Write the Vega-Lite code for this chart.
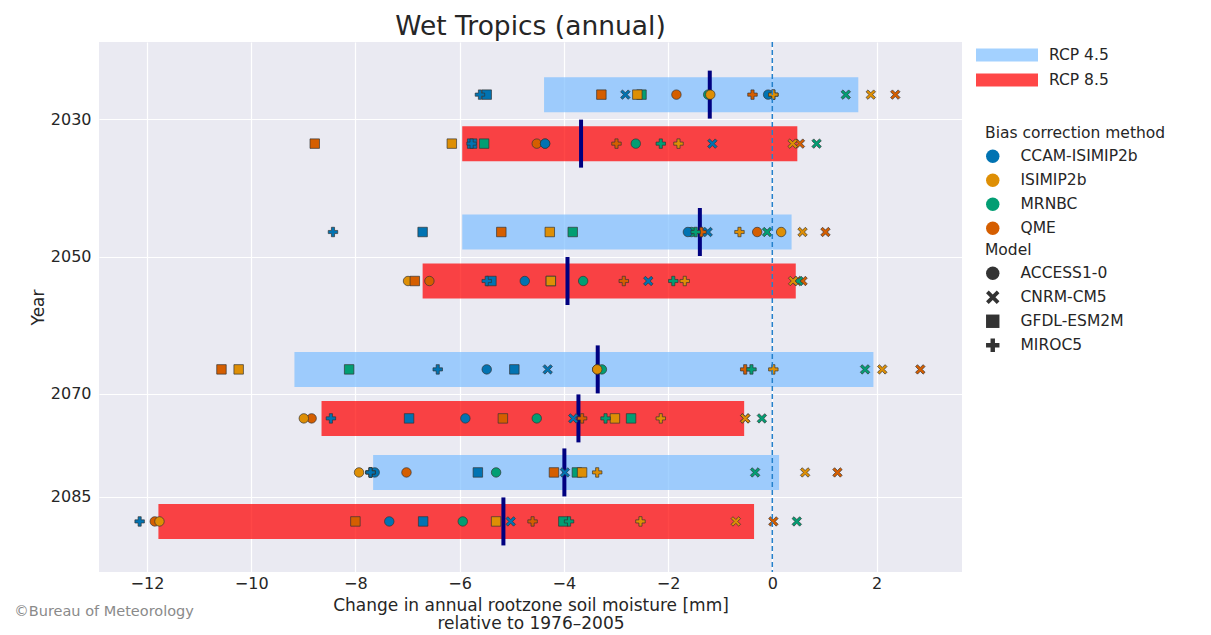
{
  "$schema": "https://vega.github.io/schema/vega-lite/v6.json",
  "background": "white",
  "padding": {"left": 14, "top": 13, "right": 5, "bottom": 5},
  "title": {"text": "©Bureau of Meteorology", "orient": "bottom", "anchor": "start", "frame": "bounds", "fontSize": 14.5, "fontWeight": "normal", "color": "#8a8a8a", "offset": -26, "dx": -15},
  "datasets": {
    "bars": [
      {"year": 2030, "rcp": "RCP 4.5", "low": -4.38, "high": 1.65, "median": -1.20},
      {"year": 2030, "rcp": "RCP 8.5", "low": -5.95, "high": 0.48, "median": -3.67},
      {"year": 2050, "rcp": "RCP 4.5", "low": -5.95, "high": 0.37, "median": -1.39},
      {"year": 2050, "rcp": "RCP 8.5", "low": -6.71, "high": 0.45, "median": -3.93},
      {"year": 2070, "rcp": "RCP 4.5", "low": -9.17, "high": 1.94, "median": -3.35},
      {"year": 2070, "rcp": "RCP 8.5", "low": -8.65, "high": -0.54, "median": -3.72},
      {"year": 2085, "rcp": "RCP 4.5", "low": -7.66, "high": 0.13, "median": -3.99},
      {"year": 2085, "rcp": "RCP 8.5", "low": -11.78, "high": -0.35, "median": -5.16}
    ],
    "zero": [{"ref": 0}],
    "points": [
      {"year": 2030, "rcp": "RCP 4.5", "model": "ACCESS1-0", "method": "QME", "value": -1.84},
      {"year": 2030, "rcp": "RCP 4.5", "model": "ACCESS1-0", "method": "MRNBC", "value": -1.23},
      {"year": 2030, "rcp": "RCP 4.5", "model": "ACCESS1-0", "method": "ISIMIP2b", "value": -1.19},
      {"year": 2030, "rcp": "RCP 4.5", "model": "ACCESS1-0", "method": "CCAM-ISIMIP2b", "value": -0.08},
      {"year": 2030, "rcp": "RCP 4.5", "model": "CNRM-CM5", "method": "QME", "value": 2.36},
      {"year": 2030, "rcp": "RCP 4.5", "model": "CNRM-CM5", "method": "MRNBC", "value": 1.41},
      {"year": 2030, "rcp": "RCP 4.5", "model": "CNRM-CM5", "method": "ISIMIP2b", "value": 1.89},
      {"year": 2030, "rcp": "RCP 4.5", "model": "CNRM-CM5", "method": "CCAM-ISIMIP2b", "value": -2.82},
      {"year": 2030, "rcp": "RCP 4.5", "model": "GFDL-ESM2M", "method": "QME", "value": -3.28},
      {"year": 2030, "rcp": "RCP 4.5", "model": "GFDL-ESM2M", "method": "MRNBC", "value": -2.51},
      {"year": 2030, "rcp": "RCP 4.5", "model": "GFDL-ESM2M", "method": "ISIMIP2b", "value": -2.59},
      {"year": 2030, "rcp": "RCP 4.5", "model": "GFDL-ESM2M", "method": "CCAM-ISIMIP2b", "value": -5.48},
      {"year": 2030, "rcp": "RCP 4.5", "model": "MIROC5", "method": "QME", "value": -0.38},
      {"year": 2030, "rcp": "RCP 4.5", "model": "MIROC5", "method": "MRNBC", "value": 0.02},
      {"year": 2030, "rcp": "RCP 4.5", "model": "MIROC5", "method": "ISIMIP2b", "value": 0.02},
      {"year": 2030, "rcp": "RCP 4.5", "model": "MIROC5", "method": "CCAM-ISIMIP2b", "value": -5.61},

      {"year": 2030, "rcp": "RCP 8.5", "model": "ACCESS1-0", "method": "QME", "value": -4.52},
      {"year": 2030, "rcp": "RCP 8.5", "model": "ACCESS1-0", "method": "MRNBC", "value": -2.62},
      {"year": 2030, "rcp": "RCP 8.5", "model": "ACCESS1-0", "method": "ISIMIP2b", "value": -4.36},
      {"year": 2030, "rcp": "RCP 8.5", "model": "ACCESS1-0", "method": "CCAM-ISIMIP2b", "value": -4.36},
      {"year": 2030, "rcp": "RCP 8.5", "model": "CNRM-CM5", "method": "QME", "value": 0.53},
      {"year": 2030, "rcp": "RCP 8.5", "model": "CNRM-CM5", "method": "MRNBC", "value": 0.85},
      {"year": 2030, "rcp": "RCP 8.5", "model": "CNRM-CM5", "method": "ISIMIP2b", "value": 0.39},
      {"year": 2030, "rcp": "RCP 8.5", "model": "CNRM-CM5", "method": "CCAM-ISIMIP2b", "value": -1.15},
      {"year": 2030, "rcp": "RCP 8.5", "model": "GFDL-ESM2M", "method": "QME", "value": -8.78},
      {"year": 2030, "rcp": "RCP 8.5", "model": "GFDL-ESM2M", "method": "MRNBC", "value": -5.53},
      {"year": 2030, "rcp": "RCP 8.5", "model": "GFDL-ESM2M", "method": "ISIMIP2b", "value": -6.15},
      {"year": 2030, "rcp": "RCP 8.5", "model": "GFDL-ESM2M", "method": "CCAM-ISIMIP2b", "value": -5.76},
      {"year": 2030, "rcp": "RCP 8.5", "model": "MIROC5", "method": "QME", "value": -2.99},
      {"year": 2030, "rcp": "RCP 8.5", "model": "MIROC5", "method": "MRNBC", "value": -2.14},
      {"year": 2030, "rcp": "RCP 8.5", "model": "MIROC5", "method": "ISIMIP2b", "value": -1.80},
      {"year": 2030, "rcp": "RCP 8.5", "model": "MIROC5", "method": "CCAM-ISIMIP2b", "value": -5.77},

      {"year": 2050, "rcp": "RCP 4.5", "model": "ACCESS1-0", "method": "QME", "value": -0.29},
      {"year": 2050, "rcp": "RCP 4.5", "model": "ACCESS1-0", "method": "MRNBC", "value": -1.55},
      {"year": 2050, "rcp": "RCP 4.5", "model": "ACCESS1-0", "method": "ISIMIP2b", "value": 0.17},
      {"year": 2050, "rcp": "RCP 4.5", "model": "ACCESS1-0", "method": "CCAM-ISIMIP2b", "value": -1.62},
      {"year": 2050, "rcp": "RCP 4.5", "model": "CNRM-CM5", "method": "QME", "value": 1.02},
      {"year": 2050, "rcp": "RCP 4.5", "model": "CNRM-CM5", "method": "MRNBC", "value": -0.10},
      {"year": 2050, "rcp": "RCP 4.5", "model": "CNRM-CM5", "method": "ISIMIP2b", "value": 0.58},
      {"year": 2050, "rcp": "RCP 4.5", "model": "CNRM-CM5", "method": "CCAM-ISIMIP2b", "value": -1.24},
      {"year": 2050, "rcp": "RCP 4.5", "model": "GFDL-ESM2M", "method": "QME", "value": -5.20},
      {"year": 2050, "rcp": "RCP 4.5", "model": "GFDL-ESM2M", "method": "MRNBC", "value": -3.83},
      {"year": 2050, "rcp": "RCP 4.5", "model": "GFDL-ESM2M", "method": "ISIMIP2b", "value": -4.27},
      {"year": 2050, "rcp": "RCP 4.5", "model": "GFDL-ESM2M", "method": "CCAM-ISIMIP2b", "value": -6.71},
      {"year": 2050, "rcp": "RCP 4.5", "model": "MIROC5", "method": "QME", "value": -1.36},
      {"year": 2050, "rcp": "RCP 4.5", "model": "MIROC5", "method": "MRNBC", "value": -1.47},
      {"year": 2050, "rcp": "RCP 4.5", "model": "MIROC5", "method": "ISIMIP2b", "value": -0.63},
      {"year": 2050, "rcp": "RCP 4.5", "model": "MIROC5", "method": "CCAM-ISIMIP2b", "value": -8.43},

      {"year": 2050, "rcp": "RCP 8.5", "model": "ACCESS1-0", "method": "QME", "value": -6.58},
      {"year": 2050, "rcp": "RCP 8.5", "model": "ACCESS1-0", "method": "MRNBC", "value": -3.63},
      {"year": 2050, "rcp": "RCP 8.5", "model": "ACCESS1-0", "method": "ISIMIP2b", "value": -6.99},
      {"year": 2050, "rcp": "RCP 8.5", "model": "ACCESS1-0", "method": "CCAM-ISIMIP2b", "value": -4.75},
      {"year": 2050, "rcp": "RCP 8.5", "model": "CNRM-CM5", "method": "QME", "value": 0.58},
      {"year": 2050, "rcp": "RCP 8.5", "model": "CNRM-CM5", "method": "MRNBC", "value": 0.50},
      {"year": 2050, "rcp": "RCP 8.5", "model": "CNRM-CM5", "method": "ISIMIP2b", "value": 0.40},
      {"year": 2050, "rcp": "RCP 8.5", "model": "CNRM-CM5", "method": "CCAM-ISIMIP2b", "value": -2.38},
      {"year": 2050, "rcp": "RCP 8.5", "model": "GFDL-ESM2M", "method": "QME", "value": -6.86},
      {"year": 2050, "rcp": "RCP 8.5", "model": "GFDL-ESM2M", "method": "MRNBC", "value": -4.25},
      {"year": 2050, "rcp": "RCP 8.5", "model": "GFDL-ESM2M", "method": "ISIMIP2b", "value": -4.25},
      {"year": 2050, "rcp": "RCP 8.5", "model": "GFDL-ESM2M", "method": "CCAM-ISIMIP2b", "value": -5.39},
      {"year": 2050, "rcp": "RCP 8.5", "model": "MIROC5", "method": "QME", "value": -2.85},
      {"year": 2050, "rcp": "RCP 8.5", "model": "MIROC5", "method": "MRNBC", "value": -1.90},
      {"year": 2050, "rcp": "RCP 8.5", "model": "MIROC5", "method": "ISIMIP2b", "value": -1.68},
      {"year": 2050, "rcp": "RCP 8.5", "model": "MIROC5", "method": "CCAM-ISIMIP2b", "value": -5.48},

      {"year": 2070, "rcp": "RCP 4.5", "model": "ACCESS1-0", "method": "QME", "value": -3.36},
      {"year": 2070, "rcp": "RCP 4.5", "model": "ACCESS1-0", "method": "MRNBC", "value": -3.27},
      {"year": 2070, "rcp": "RCP 4.5", "model": "ACCESS1-0", "method": "ISIMIP2b", "value": -3.36},
      {"year": 2070, "rcp": "RCP 4.5", "model": "ACCESS1-0", "method": "CCAM-ISIMIP2b", "value": -5.48},
      {"year": 2070, "rcp": "RCP 4.5", "model": "CNRM-CM5", "method": "QME", "value": 2.84},
      {"year": 2070, "rcp": "RCP 4.5", "model": "CNRM-CM5", "method": "MRNBC", "value": 1.78},
      {"year": 2070, "rcp": "RCP 4.5", "model": "CNRM-CM5", "method": "ISIMIP2b", "value": 2.11},
      {"year": 2070, "rcp": "RCP 4.5", "model": "CNRM-CM5", "method": "CCAM-ISIMIP2b", "value": -4.31},
      {"year": 2070, "rcp": "RCP 4.5", "model": "GFDL-ESM2M", "method": "QME", "value": -10.57},
      {"year": 2070, "rcp": "RCP 4.5", "model": "GFDL-ESM2M", "method": "MRNBC", "value": -8.12},
      {"year": 2070, "rcp": "RCP 4.5", "model": "GFDL-ESM2M", "method": "ISIMIP2b", "value": -10.24},
      {"year": 2070, "rcp": "RCP 4.5", "model": "GFDL-ESM2M", "method": "CCAM-ISIMIP2b", "value": -4.95},
      {"year": 2070, "rcp": "RCP 4.5", "model": "MIROC5", "method": "QME", "value": -0.52},
      {"year": 2070, "rcp": "RCP 4.5", "model": "MIROC5", "method": "MRNBC", "value": -0.40},
      {"year": 2070, "rcp": "RCP 4.5", "model": "MIROC5", "method": "ISIMIP2b", "value": 0.02},
      {"year": 2070, "rcp": "RCP 4.5", "model": "MIROC5", "method": "CCAM-ISIMIP2b", "value": -6.42},

      {"year": 2070, "rcp": "RCP 8.5", "model": "ACCESS1-0", "method": "QME", "value": -8.84},
      {"year": 2070, "rcp": "RCP 8.5", "model": "ACCESS1-0", "method": "MRNBC", "value": -4.52},
      {"year": 2070, "rcp": "RCP 8.5", "model": "ACCESS1-0", "method": "ISIMIP2b", "value": -8.99},
      {"year": 2070, "rcp": "RCP 8.5", "model": "ACCESS1-0", "method": "CCAM-ISIMIP2b", "value": -5.89},
      {"year": 2070, "rcp": "RCP 8.5", "model": "CNRM-CM5", "method": "QME", "value": -0.52},
      {"year": 2070, "rcp": "RCP 8.5", "model": "CNRM-CM5", "method": "MRNBC", "value": -0.20},
      {"year": 2070, "rcp": "RCP 8.5", "model": "CNRM-CM5", "method": "ISIMIP2b", "value": -0.52},
      {"year": 2070, "rcp": "RCP 8.5", "model": "CNRM-CM5", "method": "CCAM-ISIMIP2b", "value": -3.82},
      {"year": 2070, "rcp": "RCP 8.5", "model": "GFDL-ESM2M", "method": "QME", "value": -5.17},
      {"year": 2070, "rcp": "RCP 8.5", "model": "GFDL-ESM2M", "method": "MRNBC", "value": -2.71},
      {"year": 2070, "rcp": "RCP 8.5", "model": "GFDL-ESM2M", "method": "ISIMIP2b", "value": -3.02},
      {"year": 2070, "rcp": "RCP 8.5", "model": "GFDL-ESM2M", "method": "CCAM-ISIMIP2b", "value": -6.97},
      {"year": 2070, "rcp": "RCP 8.5", "model": "MIROC5", "method": "QME", "value": -3.65},
      {"year": 2070, "rcp": "RCP 8.5", "model": "MIROC5", "method": "MRNBC", "value": -3.20},
      {"year": 2070, "rcp": "RCP 8.5", "model": "MIROC5", "method": "ISIMIP2b", "value": -2.14},
      {"year": 2070, "rcp": "RCP 8.5", "model": "MIROC5", "method": "CCAM-ISIMIP2b", "value": -8.47},

      {"year": 2085, "rcp": "RCP 4.5", "model": "ACCESS1-0", "method": "QME", "value": -7.02},
      {"year": 2085, "rcp": "RCP 4.5", "model": "ACCESS1-0", "method": "MRNBC", "value": -5.30},
      {"year": 2085, "rcp": "RCP 4.5", "model": "ACCESS1-0", "method": "ISIMIP2b", "value": -7.93},
      {"year": 2085, "rcp": "RCP 4.5", "model": "ACCESS1-0", "method": "CCAM-ISIMIP2b", "value": -7.63},
      {"year": 2085, "rcp": "RCP 4.5", "model": "CNRM-CM5", "method": "QME", "value": 1.25},
      {"year": 2085, "rcp": "RCP 4.5", "model": "CNRM-CM5", "method": "MRNBC", "value": -0.33},
      {"year": 2085, "rcp": "RCP 4.5", "model": "CNRM-CM5", "method": "ISIMIP2b", "value": 0.63},
      {"year": 2085, "rcp": "RCP 4.5", "model": "CNRM-CM5", "method": "CCAM-ISIMIP2b", "value": -3.98},
      {"year": 2085, "rcp": "RCP 4.5", "model": "GFDL-ESM2M", "method": "QME", "value": -4.19},
      {"year": 2085, "rcp": "RCP 4.5", "model": "GFDL-ESM2M", "method": "MRNBC", "value": -3.75},
      {"year": 2085, "rcp": "RCP 4.5", "model": "GFDL-ESM2M", "method": "ISIMIP2b", "value": -3.65},
      {"year": 2085, "rcp": "RCP 4.5", "model": "GFDL-ESM2M", "method": "CCAM-ISIMIP2b", "value": -5.65},
      {"year": 2085, "rcp": "RCP 4.5", "model": "MIROC5", "method": "QME", "value": -7.71},
      {"year": 2085, "rcp": "RCP 4.5", "model": "MIROC5", "method": "MRNBC", "value": -7.71},
      {"year": 2085, "rcp": "RCP 4.5", "model": "MIROC5", "method": "ISIMIP2b", "value": -3.36},
      {"year": 2085, "rcp": "RCP 4.5", "model": "MIROC5", "method": "CCAM-ISIMIP2b", "value": -7.71},

      {"year": 2085, "rcp": "RCP 8.5", "model": "ACCESS1-0", "method": "QME", "value": -11.85},
      {"year": 2085, "rcp": "RCP 8.5", "model": "ACCESS1-0", "method": "MRNBC", "value": -5.94},
      {"year": 2085, "rcp": "RCP 8.5", "model": "ACCESS1-0", "method": "ISIMIP2b", "value": -11.76},
      {"year": 2085, "rcp": "RCP 8.5", "model": "ACCESS1-0", "method": "CCAM-ISIMIP2b", "value": -7.35},
      {"year": 2085, "rcp": "RCP 8.5", "model": "CNRM-CM5", "method": "QME", "value": 0.02},
      {"year": 2085, "rcp": "RCP 8.5", "model": "CNRM-CM5", "method": "MRNBC", "value": 0.47},
      {"year": 2085, "rcp": "RCP 8.5", "model": "CNRM-CM5", "method": "ISIMIP2b", "value": -0.70},
      {"year": 2085, "rcp": "RCP 8.5", "model": "CNRM-CM5", "method": "CCAM-ISIMIP2b", "value": -5.02},
      {"year": 2085, "rcp": "RCP 8.5", "model": "GFDL-ESM2M", "method": "QME", "value": -8.00},
      {"year": 2085, "rcp": "RCP 8.5", "model": "GFDL-ESM2M", "method": "MRNBC", "value": -4.01},
      {"year": 2085, "rcp": "RCP 8.5", "model": "GFDL-ESM2M", "method": "ISIMIP2b", "value": -5.30},
      {"year": 2085, "rcp": "RCP 8.5", "model": "GFDL-ESM2M", "method": "CCAM-ISIMIP2b", "value": -6.70},
      {"year": 2085, "rcp": "RCP 8.5", "model": "MIROC5", "method": "QME", "value": -4.60},
      {"year": 2085, "rcp": "RCP 8.5", "model": "MIROC5", "method": "MRNBC", "value": -3.90},
      {"year": 2085, "rcp": "RCP 8.5", "model": "MIROC5", "method": "ISIMIP2b", "value": -2.53},
      {"year": 2085, "rcp": "RCP 8.5", "model": "MIROC5", "method": "CCAM-ISIMIP2b", "value": -12.14}
    ]
  },
  "vconcat": [
    {
      "title": {"text": "Wet Tropics (annual)", "fontSize": 26.5, "fontWeight": "normal", "color": "#262626", "offset": 1, "anchor": "middle"},
      "width": 863,
      "height": 530,
      "encoding": {
        "y": {"field": "year", "type": "quantitative",
              "scale": {"domain": [2019.5, 2095.2], "reverse": true, "nice": false, "zero": false},
              "axis": {"values": [2030, 2050, 2070, 2085], "format": "d", "title": "Year", "titlePadding": 3}}
      },
      "layer": [
        {
          "data": {"name": "bars"},
          "transform": [{"filter": "datum.rcp == 'RCP 4.5'"}],
          "mark": {"type": "bar", "height": 35, "opacity": 0.72, "yOffset": -24.5},
          "encoding": {
            "x": {"field": "low", "type": "quantitative",
                  "scale": {"domain": [-12.92, 3.64], "nice": false, "zero": false},
                  "axis": {"values": [-12, -10, -8, -6, -4, -2, 0, 2], "title": ["Change in annual rootzone soil moisture [mm]", "relative to 1976–2005"], "titlePadding": 6, "labelPadding": 3, "titleLineHeight": 18}},
            "x2": {"field": "high"},
            "fill": {"field": "rcp", "type": "nominal",
                      "scale": {"domain": ["RCP 4.5", "RCP 8.5"], "range": ["#80bfff", "#ff0000"]},
                      "legend": {"title": null, "orient": "none", "legendX": 877, "legendY": 5,
                                 "symbolType": "M-1,-0.21H1V0.21H-1Z", "symbolSize": 3844, "symbolOpacity": 1,
                                 "symbolStrokeWidth": 0, "clipHeight": 16, "rowPadding": 8, "labelOffset": 11}}
          }
        },
        {
          "data": {"name": "bars"},
          "transform": [{"filter": "datum.rcp == 'RCP 8.5'"}],
          "mark": {"type": "bar", "height": 35, "opacity": 0.72, "yOffset": 24.5},
          "encoding": {
            "x": {"field": "low", "type": "quantitative"},
            "x2": {"field": "high"},
            "fill": {"field": "rcp", "type": "nominal"}
          }
        },
        {
          "data": {"name": "bars"},
          "transform": [{"filter": "datum.rcp == 'RCP 4.5'"}],
          "mark": {"type": "tick", "orient": "vertical", "size": 48, "thickness": 4, "color": "#000080", "opacity": 1, "yOffset": -24.5},
          "encoding": {"x": {"field": "median", "type": "quantitative"}}
        },
        {
          "data": {"name": "bars"},
          "transform": [{"filter": "datum.rcp == 'RCP 8.5'"}],
          "mark": {"type": "tick", "orient": "vertical", "size": 48, "thickness": 4, "color": "#000080", "opacity": 1, "yOffset": 24.5},
          "encoding": {"x": {"field": "median", "type": "quantitative"}}
        },
        {
          "data": {"name": "points"},
          "transform": [{"filter": "datum.rcp == 'RCP 4.5'"}],
          "mark": {"type": "point", "filled": true, "size": 90, "opacity": 1, "stroke": "#333333", "strokeWidth": 0.8, "strokeOpacity": 0.85, "yOffset": -24.5},
          "encoding": {
            "x": {"field": "value", "type": "quantitative"},
            "color": {"field": "method", "type": "nominal",
                      "scale": {"domain": ["CCAM-ISIMIP2b", "ISIMIP2b", "MRNBC", "QME"], "range": ["#0173b2", "#de8f05", "#029e73", "#d55e00"]},
                      "legend": {"title": "Bias correction method", "orient": "none", "legendX": 886, "legendY": 84,
                                 "symbolType": "circle", "symbolSize": 180, "symbolStrokeWidth": 0, "symbolOpacity": 1,
                                 "rowPadding": 7, "labelOffset": 20, "titlePadding": 7, "titleLimit": 400, "labelLimit": 300,
                                 "encode": {"title": {"update": {"dx": {"value": 35}}}}}},
            "shape": {"field": "model", "type": "nominal",
                      "scale": {"domain": ["ACCESS1-0", "CNRM-CM5", "GFDL-ESM2M", "MIROC5"],
                                "range": ["circle", "M0,-0.4L0.6,-1L1,-0.6L0.4,0L1,0.6L0.6,1L0,0.4L-0.6,1L-1,0.6L-0.4,0L-1,-0.6L-0.6,-1Z", "square", "M-0.33,-1H0.33V-0.33H1V0.33H0.33V1H-0.33V0.33H-1V-0.33H-0.33Z"]},
                      "legend": {"title": "Model", "orient": "none", "legendX": 886, "legendY": 201,
                                 "symbolSize": 180, "symbolFillColor": "#333333", "symbolStrokeWidth": 0, "symbolOpacity": 1,
                                 "rowPadding": 7, "labelOffset": 20, "titlePadding": 7, "labelLimit": 300,
                                 "encode": {"title": {"update": {"dx": {"value": 35}}}}}}
          }
        },
        {
          "data": {"name": "points"},
          "transform": [{"filter": "datum.rcp == 'RCP 8.5'"}],
          "mark": {"type": "point", "filled": true, "size": 90, "opacity": 1, "stroke": "#333333", "strokeWidth": 0.8, "strokeOpacity": 0.85, "yOffset": 24.5},
          "encoding": {
            "x": {"field": "value", "type": "quantitative"},
            "color": {"field": "method", "type": "nominal"},
            "shape": {"field": "model", "type": "nominal"}
          }
        },
        {
          "data": {"name": "zero"},
          "mark": {"type": "rule", "color": "#2581cc", "strokeWidth": 1.5, "strokeDash": [5, 3]},
          "encoding": {"x": {"field": "ref", "type": "quantitative"}, "y": null}
        }
      ]
    }
  ],
  "config": {
    "font": "DejaVu Sans",
    "view": {"fill": "#eaeaf2", "stroke": null},
    "axis": {"grid": true, "gridColor": "#ffffff", "gridWidth": 1.2, "domain": false, "ticks": false,
             "labelFontSize": 16, "labelColor": "#262626", "titleFontSize": 17, "titleColor": "#262626",
             "titleFontWeight": "normal", "labelPadding": 8},
    "legend": {"labelFontSize": 15.5, "labelColor": "#262626", "titleFontSize": 15.5, "titleColor": "#262626",
               "titleFontWeight": "normal", "padding": 0}
  }
}
